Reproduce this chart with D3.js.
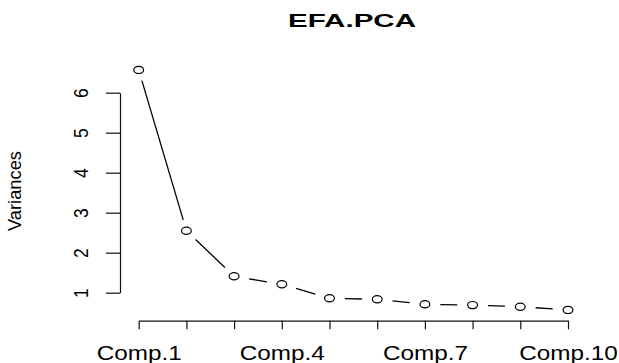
<!DOCTYPE html>
<html>
<head>
<meta charset="utf-8">
<script src="https://cdn.jsdelivr.net/npm/d3@7"></script>
<style>
  html, body { margin: 0; padding: 0; background: #fff; }
  svg { display: block; }
  text { font-family: "Liberation Sans", Arial, sans-serif; fill: #000; }
</style>
</head>
<body>
<svg id="chart" width="619" height="363"></svg>
<script>
// ---- data ----
const categories = ["Comp.1","Comp.2","Comp.3","Comp.4","Comp.5","Comp.6","Comp.7","Comp.8","Comp.9","Comp.10"];
const variances = [6.57, 2.55, 1.41, 1.21, 0.86, 0.835, 0.71, 0.69, 0.65, 0.57];
const yTicks = [1, 2, 3, 4, 5, 6];
const xLabelsShown = ["Comp.1", "Comp.4", "Comp.7", "Comp.10"];
const title = "EFA.PCA";
const yTitle = "Variances";

// ---- layout ----
const svg = d3.select("#chart");
const sx = 1.4;           // horizontal stretch of the reference
const x = d3.scalePoint().domain(categories).range([138.7, 568]);
const y = d3.scaleLinear().domain([1, 6]).range([292.7, 92.7]);
const axisY = 320.7, axisX = 120;

// title
svg.append("text")
  .attr("x", 352).attr("y", 27)
  .attr("text-anchor", "middle")
  .attr("font-weight", "bold")
  .attr("font-size", 19)
  .attr("textLength", 128)
  .attr("lengthAdjust", "spacingAndGlyphs")
  .text(title);

// x axis
const gx = svg.append("g").attr("transform", `translate(0,${axisY})`)
  .call(d3.axisBottom(x).tickSizeOuter(0).tickSizeInner(8.6)
    .tickFormat(d => xLabelsShown.includes(d) ? d : ""));
gx.select(".domain").attr("stroke", "#111").attr("stroke-width", 1.2);
gx.selectAll(".tick line").attr("stroke", "#111").attr("stroke-width", 1.2);
gx.selectAll(".tick text")
  .attr("font-size", 19.5)
  .attr("font-family", "Liberation Sans, Arial, sans-serif")
  .attr("fill", "#000")
  .attr("y", 360 - axisY).attr("dy", 0)
  .each(function(d) {
    if (!d || !xLabelsShown.includes(d)) return;
    const len = d.length === 7 ? 98.5 : 85;
    d3.select(this).attr("textLength", len).attr("lengthAdjust", "spacingAndGlyphs");
  });

// y axis
const gy = svg.append("g").attr("transform", `translate(${axisX},0)`)
  .call(d3.axisLeft(y).tickValues(yTicks).tickSizeOuter(0).tickSizeInner(14).tickFormat(d3.format("d")));
gy.select(".domain").attr("stroke", "#111").attr("stroke-width", 1.2);
gy.selectAll(".tick line").attr("stroke", "#111").attr("stroke-width", 1.2);
gy.selectAll(".tick text")
  .attr("font-size", 17.5)
  .attr("font-family", "Liberation Sans, Arial, sans-serif")
  .attr("fill", "#000")
  .attr("x", 0).attr("dy", 0)
  .attr("text-anchor", "middle")
  .attr("transform", "translate(-32.5,0) rotate(-90) scale(1,1.12)");

// y title
svg.append("text")
  .attr("transform", "translate(21,191) rotate(-90)")
  .attr("text-anchor", "middle")
  .attr("font-size", 18)
  .attr("textLength", 80)
  .attr("lengthAdjust", "spacingAndGlyphs")
  .text(yTitle);

// line segments with gaps (type = "b")
const pts = categories.map((c, i) => [x(c), y(variances[i])]);
const r = 11;
const segs = d3.pairs(pts).map(([p, q]) => {
  const dx = q[0] - p[0], dy = q[1] - p[1];
  const L = Math.hypot(dx / sx, dy);
  const t = r / L;
  return [p[0] + dx * t, p[1] + dy * t, q[0] - dx * t, q[1] - dy * t, L];
}).filter(s => s[4] > 2 * r);

svg.append("g").selectAll("line").data(segs).join("line")
  .attr("x1", d => d[0]).attr("y1", d => d[1])
  .attr("x2", d => d[2]).attr("y2", d => d[3])
  .attr("stroke", "#000").attr("stroke-width", 1.3);

// points
svg.append("g").selectAll("ellipse").data(pts).join("ellipse")
  .attr("cx", d => d[0]).attr("cy", d => d[1])
  .attr("rx", 4.9).attr("ry", 3.6)
  .attr("fill", "none").attr("stroke", "#000").attr("stroke-width", 1.2);
</script>
</body>
</html>
